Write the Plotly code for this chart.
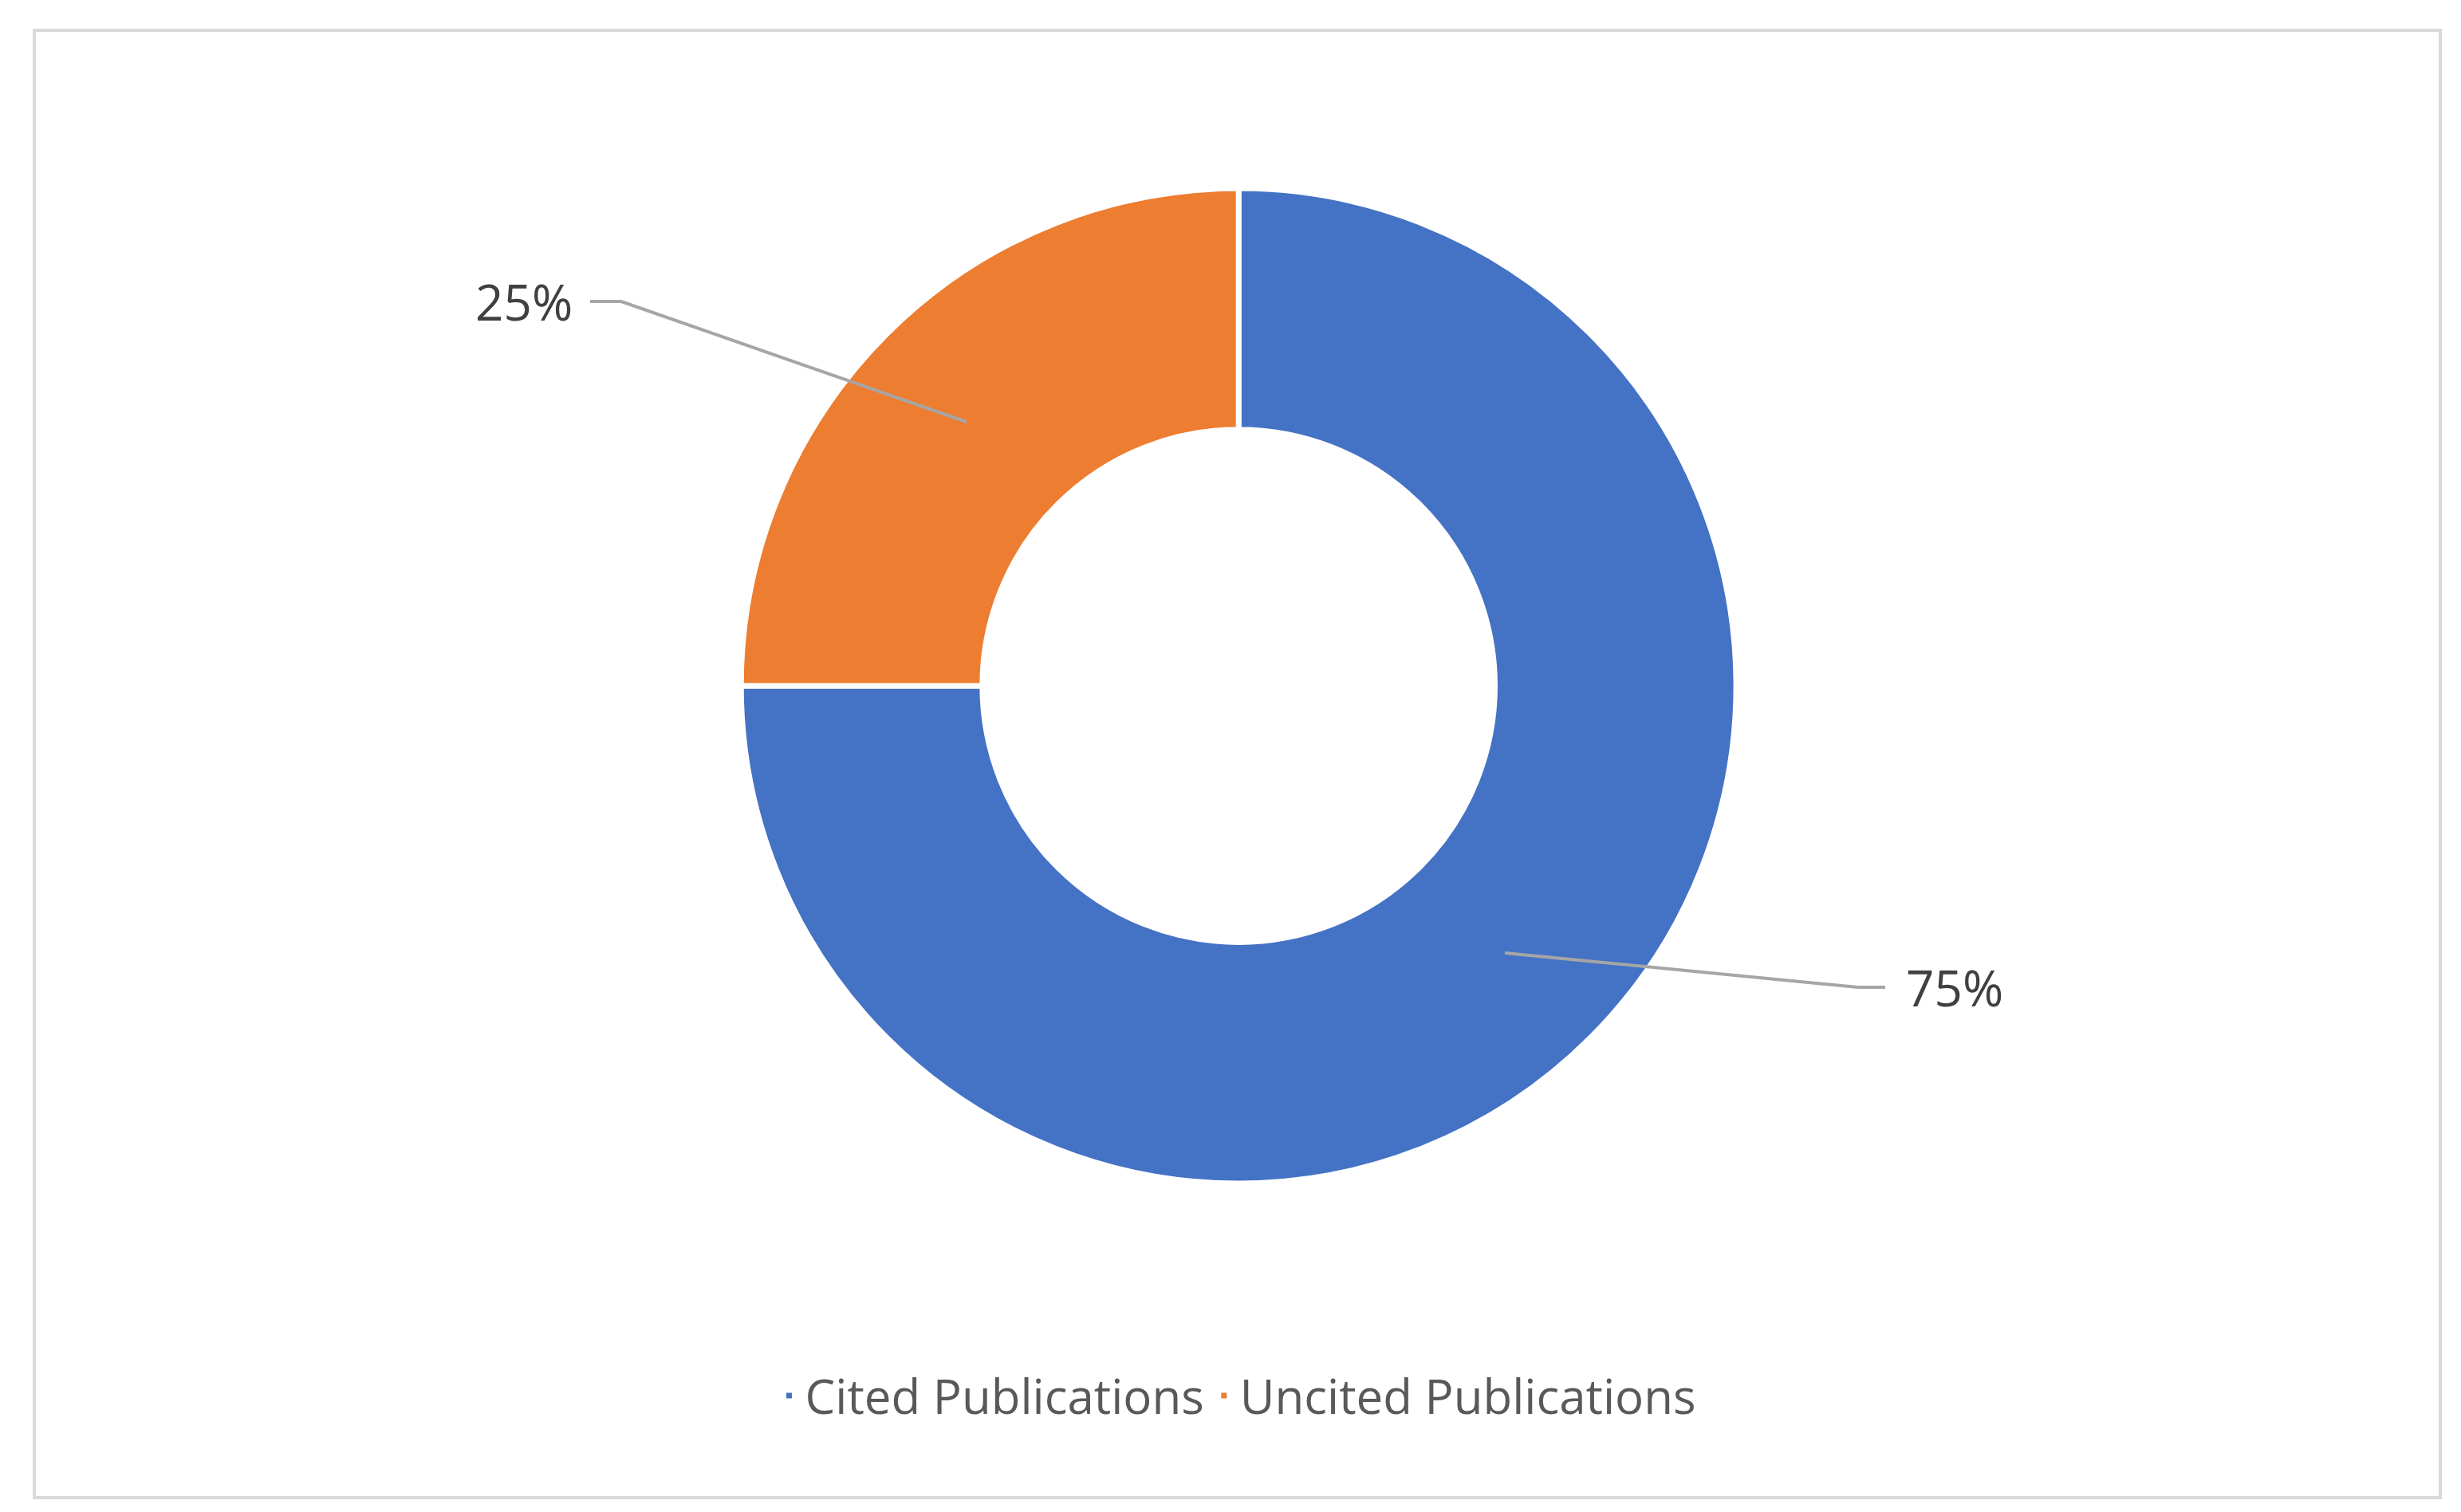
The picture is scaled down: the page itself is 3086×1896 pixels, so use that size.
import plotly.graph_objects as go

labels = ["Cited Publications", "Uncited Publications"]
values = [75, 25]
colors = ["#4472C4", "#ED7D31"]
pct_text = ["75%", "25%"]

W, H = 3086, 1896
def px(x, y):
    return x / W, 1 - y / H

fig = go.Figure(go.Pie(
    labels=labels, values=values, hole=0.515, sort=False, direction="clockwise",
    rotation=0, marker=dict(colors=colors, line=dict(color="white", width=7)),
    textinfo="none", hoverinfo="label+percent",
    domain=dict(x=[0.2985, 0.7029], y=[0.2215, 0.8797]),
))

def path(pts):
    s = ""
    for i, (x, y) in enumerate(pts):
        X, Y = px(x, y)
        s += ("M" if i == 0 else " L") + f" {X} {Y}"
    return s

shapes = [
    dict(type="rect", xref="paper", yref="paper", x0=35/W, x1=3052/W, y0=1-1870/H, y1=1-30/H,
         line=dict(color="#D9D9D9", width=4)),
    dict(type="path", xref="paper", yref="paper", path=path([(732, 370), (771, 370), (1204, 521)]),
         line=dict(color="#A6A6A6", width=4)),
    dict(type="path", xref="paper", yref="paper", path=path([(1879, 1187), (2322, 1230), (2356, 1230)]),
         line=dict(color="#A6A6A6", width=4)),
]
ann = []
for t, (x, y), anc in [(pct_text[1], (712, 370), "right"), (pct_text[0], (2380, 1230), "left")]:
    X, Y = px(x, y)
    ann.append(dict(text=t, x=X, y=Y, xref="paper", yref="paper", xanchor=anc, yanchor="middle",
                    showarrow=False, font=dict(size=62, color="#404040", family="Open Sans")))

fig.update_layout(
    width=W, height=H, margin=dict(l=0, r=0, t=0, b=0), paper_bgcolor="white",
    shapes=shapes, annotations=ann,
    legend=dict(orientation="h", x=0.5, xanchor="center", y=1-1742/H, yanchor="middle",
                font=dict(size=60, color="#595959", family="Open Sans"), itemwidth=30,
                tracegroupgap=0),
)
fig.write_html("out.html")
